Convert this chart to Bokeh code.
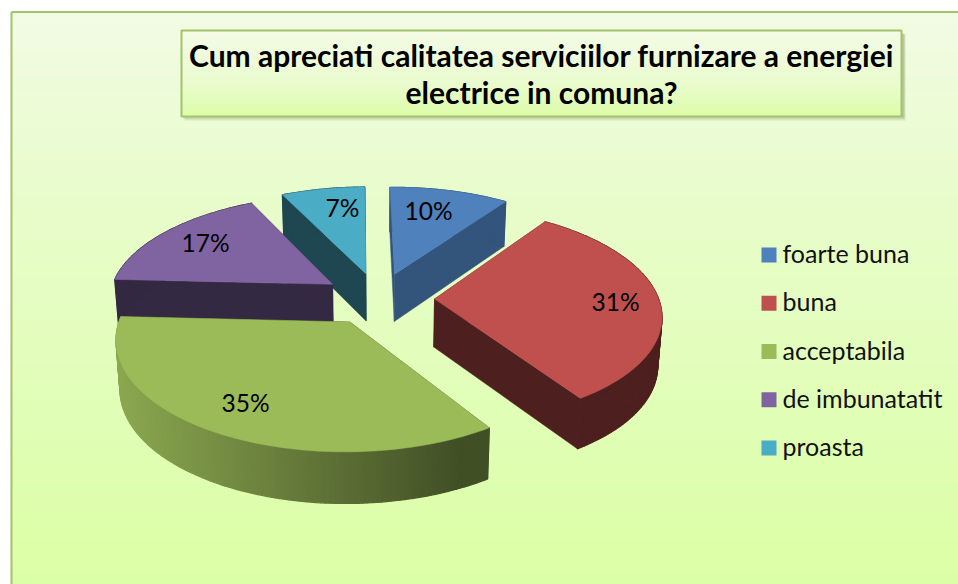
import numpy as np
from bokeh.plotting import figure
from bokeh.models import Range1d
from bokeh.core.properties import value
from bokeh.embed import file_html
from bokeh.resources import INLINE

# ---- data ----
categories = ["foarte buna", "buna", "acceptabila", "de imbunatatit", "proasta"]
percent = [10, 31, 35, 17, 7]
labels = ["10%", "31%", "35%", "17%", "7%"]
title_lines = ["Cum apreciati calitatea serviciilor furnizare a energiei",
               "electrice in comuna?"]
colors = ["#4F81BD", "#C0504D", "#9BBB59", "#8064A2", "#4BACC6"]

# ---- layout / style (reference pixel space) ----
CX, CY, RX, RY = 378.0, 298.0, 224.0, 105.0
PERSP, EXPLODE = 0.137, 0.25
ROTATION = np.radians(-0.8)
SIDE_SHADE = [0.65, 0.40, 0.42, 0.41, 0.41]
LABEL_XY = [(428, 210), (615, 300.5), (245, 402), (205, 242), (342, 207)]
DRAW_ORDER = [4, 0, 3, 1, 2]
FONT = "Lato"
W, H = 958, 584


def rgb(h):
    return np.array([int(h[i:i + 2], 16) for i in (1, 3, 5)], float)


def hx(c):
    return "#%02x%02x%02x" % tuple(int(round(max(0, min(255, v)))) for v in c)


def mix(a, b, t):
    return hx(rgb(a) * (1 - t) + rgb(b) * t)


def shade(col, f):
    return hx(rgb(col) * f)


def project(u, v, low=False):
    d = 1 + PERSP * v
    x, y = RX * u / d, -RY * v / d
    if low:
        x *= 0.985
        y += 48 - 3 * v
    return CX + x, CY + y


p = figure(width=W, height=H, x_range=Range1d(0, W), y_range=Range1d(H, 0),
           x_axis_location=None, y_axis_location=None, toolbar_location=None,
           output_backend="svg", min_border=0, outline_line_color=None)
p.grid.visible = False
p.background_fill_color = "white"
p.border_fill_color = "white"

# panel background (vertical gradient)
stops = [(12, "#F2FBE4"), (170, "#E9FCCE"), (584, "#DBFFA5")]


def grad(y, st):
    for (y0, c0), (y1, c1) in zip(st, st[1:]):
        if y <= y1:
            return mix(c0, c1, (y - y0) / (y1 - y0))
    return st[-1][1]


ys = np.arange(12, H, 4)
bg = [grad(y, stops) for y in ys]
p.quad(left=11, right=W, top=ys, bottom=ys + 5, fill_color=bg, line_color=None)
p.segment(x0=[11, 11], y0=[11.5, 11.5], x1=[11, W], y1=[H, 11.5], line_color="#A4C16B", line_width=2)

# title box
p.quad(left=184, right=905, top=34, bottom=120, fill_color="#6E7F50", fill_alpha=0.16, line_color=None)
p.quad(left=183, right=904, top=33, bottom=118, fill_color="#6E7F50", fill_alpha=0.30, line_color=None)
ty = np.arange(30, 116, 2)
box_st = [(30, "#F3FBE6"), (80, "#EAFBCF"), (116, "#DCFDA8")]
p.quad(left=181, right=901, top=ty, bottom=ty + 3, fill_color=[grad(y, box_st) for y in ty], line_color=None)
p.quad(left=181, right=901, top=30, bottom=116, fill_color=None, line_color="#A4C16B", line_width=2)
p.text(x=[541, 541], y=[54, 91], text=title_lines, text_align="center", text_baseline="middle",
       text_font=value(FONT), text_font_style="bold", text_font_size=value("30px"), text_color="black")

# 3D pie built from the values
frac = np.array(percent, float) / sum(percent)
edges = ROTATION + np.concatenate([[0], np.cumsum(frac)]) * 2 * np.pi
for i in DRAW_ORDER:
    a0, a1 = edges[i], edges[i + 1]
    mid = (a0 + a1) / 2
    ou, ov = EXPLODE * np.sin(mid), EXPLODE * np.cos(mid)
    th = np.linspace(a0, a1, max(8, int(np.degrees(a1 - a0))))
    ru, rv = ou + np.sin(th), ov + np.cos(th)
    is_green = i == 2
    side = shade(colors[i], SIDE_SHADE[i])
    # radial walls
    for a in (a0, a1):
        eu, ev = ou + np.sin(a), ov + np.cos(a)
        tA, tE = project(ou, ov), project(eu, ev)
        bA, bE = project(ou, ov, True), project(eu, ev, True)
        p.patch([tA[0], tE[0], bE[0], bA[0]], [tA[1], tE[1], bE[1], bA[1]],
                fill_color=side, line_color=side, line_width=0.5)
    # rim strips, shaded across the width
    xs_, ys_, cs_ = [], [], []
    for j in range(len(th) - 1):
        t0 = project(ru[j], rv[j]); t1 = project(ru[j + 1], rv[j + 1])
        b0 = project(ru[j], rv[j], True); b1 = project(ru[j + 1], rv[j + 1], True)
        xs_.append([t0[0], t1[0], b1[0], b0[0]])
        ys_.append([t0[1], t1[1], b1[1], b0[1]])
        if is_green:
            f = 0.90 + (0.42 - 0.90) * min(1, max(0, ((t0[0] + t1[0]) / 2 - 114) / (460 - 114)))
        else:
            f = SIDE_SHADE[i]
        cs_.append(shade(colors[i], f))
    p.patches(xs_, ys_, fill_color=cs_, line_color=cs_, line_width=1.2)
    # top face
    tx, ty_ = project(np.r_[ou, ru], np.r_[ov, rv])
    p.patch(tx, ty_, fill_color=colors[i], line_color=colors[i], line_width=0.5)

# data labels
p.text(x=[c[0] for c in LABEL_XY], y=[c[1] for c in LABEL_XY], text=labels,
       text_align="center", text_baseline="middle", text_font=value(FONT),
       text_font_size=value("24.5px"), text_color="black")

# legend
ly = 254.5 + 48.25 * np.arange(len(categories))
p.quad(left=761, right=776, top=ly - 7.5, bottom=ly + 7.5, fill_color=colors, line_color=None)
p.text(x=782, y=ly - 2, text=categories, text_align="left", text_baseline="middle",
       text_font=value(FONT), text_font_size=value("25px"), text_color="#111111")

open("out.html", "w").write(file_html(p, INLINE))
